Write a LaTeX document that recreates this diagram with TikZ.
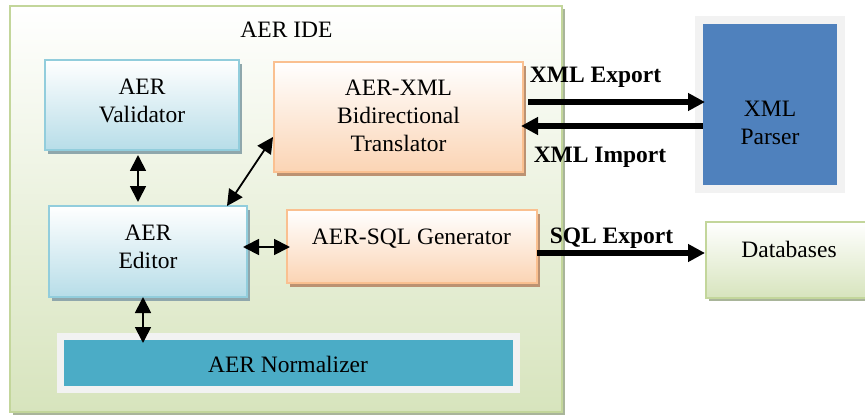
\documentclass[tikz,border=0pt]{standalone}
\usepackage{fontspec}
\setmainfont{Liberation Serif}
\usetikzlibrary{arrows.meta,shadows,calc}

\definecolor{aquaedge}{HTML}{92CDDC}
\definecolor{aquafill}{HTML}{B7DDE8}
\definecolor{aquashade}{HTML}{8FA7AC}
\definecolor{orangeedge}{HTML}{FAC090}
\definecolor{orangefill}{HTML}{FBD4B4}
\definecolor{orangeshade}{HTML}{BC9272}
\definecolor{greenedge}{HTML}{C3D69B}
\definecolor{greenfill}{HTML}{D7E4BD}
\definecolor{greenshade}{HTML}{A9B59A}
\definecolor{tealfill}{HTML}{4BACC6}
\definecolor{parserblue}{HTML}{4F81BD}
\definecolor{framegray}{HTML}{F2F2F2}
\definecolor{blueshade}{HTML}{8C9BB8}

\begin{document}
\begin{tikzpicture}[x=1pt,y=-1pt,
  every node/.style={inner sep=0pt, outer sep=0pt, font=\fontsize{23.5}{28}\selectfont},
  boxbase/.style={rectangle, line width=2pt},
  aquabox/.style={boxbase, draw=aquaedge, top color=white, bottom color=aquafill,
    drop shadow={shadow xshift=3pt, shadow yshift=-4pt, fill=aquashade, opacity=1}},
  orangebox/.style={boxbase, draw=orangeedge, top color=white, bottom color=orangefill,
    drop shadow={shadow xshift=3pt, shadow yshift=-4pt, fill=orangeshade, opacity=1}},
  greenbox/.style={boxbase, draw=greenedge, top color=white, bottom color=greenfill,
    drop shadow={shadow xshift=3pt, shadow yshift=-3pt, fill=greenshade, opacity=1}},
  framedbox/.style={rectangle, draw=framegray,
    drop shadow={shadow xshift=3pt, shadow yshift=-3pt, fill=#1, opacity=1}},
  txt/.style={align=center},
  boldlbl/.style={font=\fontsize{23.5}{28}\selectfont\bfseries, anchor=base},
  dbl/.style={line width=1.8pt, {Triangle[width=16pt,length=16pt]}-{Triangle[width=16pt,length=16pt]}},
  flow/.style={line width=5.5pt, -{Triangle[width=17pt,length=17pt]}},
]
\useasboundingbox (0,0) rectangle (865,417);

% IDE container
\node[greenbox, line width=2.5pt, minimum width=552pt, minimum height=406pt] (ide) at (286,209) {};
\node[anchor=base] (idetitle) at (286.5,38) {AER IDE};

% components inside the IDE
\node[aquabox, minimum width=194pt, minimum height=90pt] (val) at (142,105) {};
\node[txt] (valtext) at ($(val)+(0,-4.5)$) {AER\\Validator};

\node[orangebox, minimum width=249pt, minimum height=110pt] (xml) at (398.5,117) {};
\node[txt] (xmltext) at ($(xml)+(0,-1)$) {AER-XML\\Bidirectional\\Translator};

\node[aquabox, minimum width=198pt, minimum height=91pt] (ed) at (148,251.5) {};
\node[txt] (edtext) at ($(ed)+(0,-5)$) {AER\\Editor};

\node[orangebox, minimum width=250pt, minimum height=73pt] (sql) at (412,246.5) {};
\node[anchor=base] (sqltext) at (411.5,244) {AER-SQL Generator};

\node[framedbox=aquashade, line width=7pt, fill=tealfill, minimum width=456pt, minimum height=53pt] (norm) at (288.5,363) {};
\node[anchor=base] (normtext) at (288,372) {AER Normalizer};

% external systems
\node[framedbox=blueshade, line width=8pt, fill=parserblue, minimum width=142pt, minimum height=169pt] (parser) at (770,104.5) {};
\node[txt] (parsertext) at (770,122.5) {XML\\Parser};

\node[greenbox, minimum width=165pt, minimum height=76pt] (db) at (788.5,260) {};
\node[anchor=base] (dbtext) at (789,257) {Databases};

% internal links
\draw[dbl] ($(val.south)+(-4,5)$) -- ($(val.south |- ed.north)+(-4,-4)$);
\draw[dbl] ($(ed.north east)+(-20,0)$) -- ($(xml.west)+(-1,20)$);
\draw[dbl] ($(ed.east)+(-4,-4.5)$) -- ($(sql.west |- ed.east)+(3,-4.5)$);
\draw[dbl] ($(ed.south)+(-5,0)$) -- ($(ed.south |- norm.north)+(-5,6.5)$);

% data exchange
\draw[flow] ($(xml.east)+(5,-15)$) -- ($(parser.west |- xml.east)+(6,-15)$);
\draw[flow] ($(parser.west |- xml.east)+(4,9)$) -- ($(xml.east)+(-2,9)$);
\draw[flow] ($(sql.east)+(0,6.5)$) -- ($(db.west |- sql.east)+(-1,6.5)$);

\node[boldlbl] (exportlbl) at (595.5,83) {XML Export};
\node[boldlbl] (importlbl) at (600,163) {XML Import};
\node[boldlbl] (sqllbl) at (611.5,243) {SQL Export};
\end{tikzpicture}
\end{document}
